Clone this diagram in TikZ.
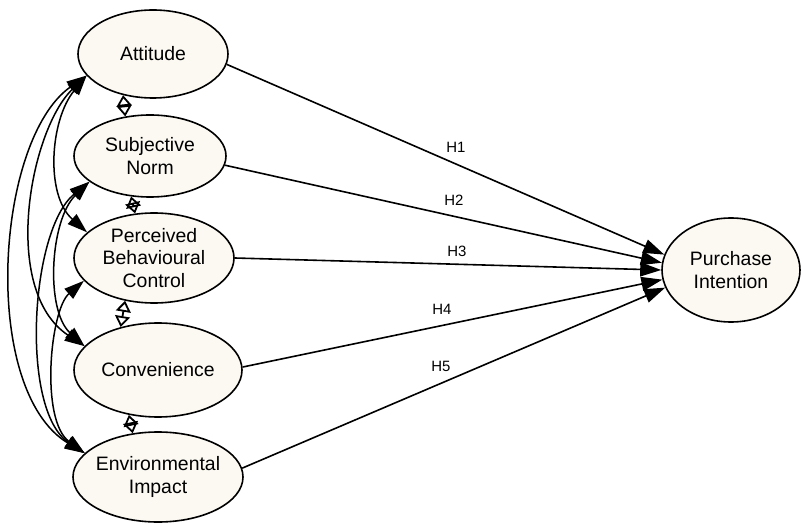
\documentclass[tikz,border=0pt]{standalone}
\usepackage{fontspec}
\setmainfont{Liberation Sans}
\usetikzlibrary{shapes.geometric,arrows.meta}
\definecolor{latentfill}{RGB}{252,249,243}
\begin{document}
\begin{tikzpicture}[x=1bp,y=-1bp,
  latent/.style={ellipse,draw,line width=1.6bp,fill=latentfill,inner sep=-4bp,
    align=center,font=\fontsize{19.5}{23}\selectfont},
  hyppath/.style={line width=1.6bp,-{Triangle[length=21bp,width=14bp]}},
  covpath/.style={line width=1.5bp,
    {Triangle[length=20bp,width=13bp]}-{Triangle[length=20bp,width=13bp]}},
  adjcov/.style={line width=1.8bp,
    {Triangle[open,length=11bp,width=15bp]}-{Triangle[open,length=11bp,width=15bp]}},
  hlabel/.style={font=\fontsize{15}{18}\selectfont,inner sep=0pt}]
\useasboundingbox (0,0) rectangle (802,524);

% latent constructs
\node[latent,minimum width=150bp,minimum height=88bp] (att)  at (153,54)  {Attitude};
\node[latent,minimum width=152bp,minimum height=82bp] (sn)   at (150,156) {Subjective\\Norm};
\node[latent,minimum width=160bp,minimum height=90bp] (pbc)  at (154,258) {Perceived\\Behavioural\\Control};
\node[latent,minimum width=168bp,minimum height=94bp] (conv) at (158,370) {Convenience};
\node[latent,minimum width=170bp,minimum height=90bp] (ei)   at (158,477) {Environmental\\Impact};
\node[latent,minimum width=138bp,minimum height=104bp] (pi)  at (731,270) {Purchase\\Intention};

% hypothesised paths
\draw[hyppath] (att.-8) -- (pi.167);
\draw[hyppath] (sn.-7)  -- (pi.174);
\draw[hyppath] (pbc.0)  -- (pi.180);
\draw[hyppath] (conv.2) -- (pi.188);
\draw[hyppath] (ei.6)   -- (pi.195);

\node[hlabel] (h1) at (456,147) {H1};
\node[hlabel] (h2) at (454,200) {H2};
\node[hlabel] (h3) at (457,251) {H3};
\node[hlabel] (h4) at (442,309) {H4};
\node[hlabel] (h5) at (441,366) {H5};

% covariances between neighbouring constructs
\draw[adjcov] (att.234)  -- (sn.122.7);
\draw[adjcov] (sn.245.8) -- (pbc.113.4);
\draw[adjcov] (pbc.236.6) -- (conv.131.4);
\draw[adjcov] (conv.237.5) -- (ei.120.2);

% covariances between the other constructs
\draw[covpath] (att.198) .. controls (50,120) and (45,195) .. (pbc.159.5);
\draw[covpath] (att.198) .. controls (30,130) and (0,290) .. (conv.162.5);
\draw[covpath] (att.198) .. controls (-5,140) and (-20,390) .. (ei.162.5);
\draw[covpath] (sn.203) .. controls (50,220) and (45,310) .. (conv.162.5);
\draw[covpath] (sn.203) .. controls (30,230) and (20,410) .. (ei.162.5);
\draw[covpath] (pbc.198.4) .. controls (50,310) and (40,420) .. (ei.162.5);
\end{tikzpicture}
\end{document}
